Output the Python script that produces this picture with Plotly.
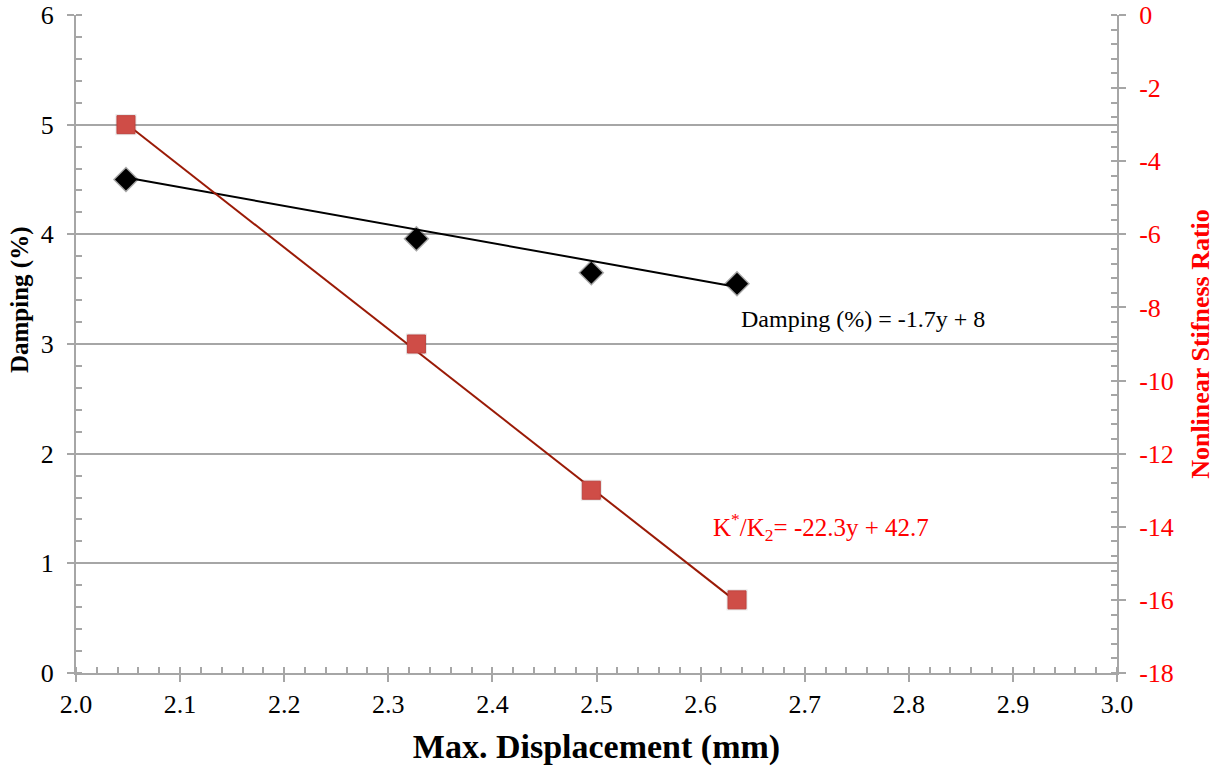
import plotly.graph_objects as go

# Measured response vs. maximum displacement
max_disp = [2.048, 2.327, 2.495, 2.635]
damping_pct = [4.50, 3.96, 3.65, 3.55]
stiffness_ratio = [-3.0, -9.0, -13.0, -16.0]

# Linear fits shown as equations on the chart
damp_slope, damp_icpt = -1.7, 8.0
stiff_slope, stiff_icpt = -22.3, 42.7

# Secondary axis tick labels (plain hyphen minus)
ratio_ticks = [0, -2, -4, -6, -8, -10, -12, -14, -16, -18]
ratio_labels = ["0", "-2", "-4", "-6", "-8", "-10", "-12", "-14", "-16", "-18"]

fit_x = [min(max_disp), max(max_disp)]
damp_fit = [damp_slope * x + damp_icpt for x in fit_x]
stiff_fit = [stiff_slope * x + stiff_icpt for x in fit_x]

AXIS_GREY = "#a6a6a6"
SERIF = "Liberation Serif, Times New Roman, serif"
RED = "#ff0000"

fig = go.Figure()

fig.add_trace(go.Scatter(
    x=fit_x, y=damp_fit, mode="lines",
    line=dict(color="black", width=2), showlegend=False, hoverinfo="skip"))
fig.add_trace(go.Scatter(
    x=fit_x, y=stiff_fit, mode="lines", yaxis="y2",
    line=dict(color="#9a1a06", width=2), showlegend=False, hoverinfo="skip"))

# soft halo under the markers
fig.add_trace(go.Scatter(
    x=max_disp, y=damping_pct, mode="markers",
    marker=dict(symbol="diamond", size=20, color="rgba(0,0,0,0.35)"),
    showlegend=False, hoverinfo="skip"))
fig.add_trace(go.Scatter(
    x=max_disp, y=stiffness_ratio, mode="markers", yaxis="y2",
    marker=dict(symbol="square", size=21, color="rgba(0,0,0,0.10)"),
    showlegend=False, hoverinfo="skip"))

fig.add_trace(go.Scatter(
    x=max_disp, y=damping_pct, mode="markers", name="Damping (%)",
    marker=dict(symbol="diamond", size=17, color="black"),
    showlegend=False))
fig.add_trace(go.Scatter(
    x=max_disp, y=stiffness_ratio, mode="markers", yaxis="y2",
    name="Nonlinear Stifness Ratio",
    marker=dict(symbol="square", size=18, color="#cf4d47",
                line=dict(color="#c0433e", width=1)),
    showlegend=False))

fig.add_annotation(
    x=2.637, y=3.23, xref="x", yref="y", xanchor="left", yanchor="middle",
    text="Damping (%) = -1.7y + 8", showarrow=False,
    font=dict(family=SERIF, size=24, color="black"))
fig.add_annotation(
    x=2.610, y=-14.0, xref="x", yref="y2", xanchor="left", yanchor="middle",
    text="K<sup>*</sup>/K<sub>2</sub>= -22.3y + 42.7", showarrow=False,
    font=dict(family=SERIF, size=25, color=RED))

# primary axis title, set a little above the axis midpoint
fig.add_annotation(
    x=-0.054, y=0.568, xref="paper", yref="paper",
    xanchor="center", yanchor="middle", textangle=-90,
    text="<b>Damping (%)</b>", showarrow=False,
    font=dict(family=SERIF, size=25, color="black"))

fig.update_layout(
    width=1225, height=771,
    margin=dict(l=76, r=108, t=15, b=98),
    paper_bgcolor="white", plot_bgcolor="white",
    font=dict(family=SERIF, color="black"),
    xaxis=dict(
        range=[2.0, 3.0], dtick=0.1, tickformat=".1f", automargin=False,
        showline=True, linecolor=AXIS_GREY, linewidth=2,
        ticks="outside", ticklen=7, tickwidth=2, tickcolor=AXIS_GREY,
        minor=dict(dtick=0.02, ticks="inside", ticklen=6, tickwidth=1.5,
                   tickcolor=AXIS_GREY),
        showgrid=False, zeroline=False,
        tickfont=dict(family=SERIF, size=26, color="black"),
        title=dict(text="<b>Max. Displacement (mm)</b>", standoff=16,
                   font=dict(family=SERIF, size=34, color="black")),
    ),
    yaxis=dict(
        range=[0, 6], dtick=1, automargin=False,
        showline=True, linecolor=AXIS_GREY, linewidth=2,
        ticks="outside", ticklen=7, tickwidth=2, tickcolor=AXIS_GREY,
        minor=dict(dtick=0.2, ticks="inside", ticklen=6, tickwidth=1.5,
                   tickcolor=AXIS_GREY),
        showgrid=True, gridcolor=AXIS_GREY, gridwidth=2, zeroline=False,
        tickfont=dict(family=SERIF, size=26, color="black"),
        ticklabelstandoff=8,
    ),
    yaxis2=dict(
        range=[-18, 0], tickvals=ratio_ticks, ticktext=ratio_labels,
        overlaying="y", side="right", automargin=False,
        showline=True, linecolor=AXIS_GREY, linewidth=2,
        ticks="outside", ticklen=7, tickwidth=2, tickcolor=AXIS_GREY,
        minor=dict(dtick=0.4, ticks="inside", ticklen=6, tickwidth=1.5,
                   tickcolor=AXIS_GREY),
        showgrid=False, zeroline=False,
        tickfont=dict(family=SERIF, size=26, color=RED),
        ticklabelstandoff=8,
        title=dict(text="<b>Nonlinear Stifness Ratio</b>", standoff=18,
                   font=dict(family=SERIF, size=26, color=RED)),
    ),
)

fig.write_html("out.html")
